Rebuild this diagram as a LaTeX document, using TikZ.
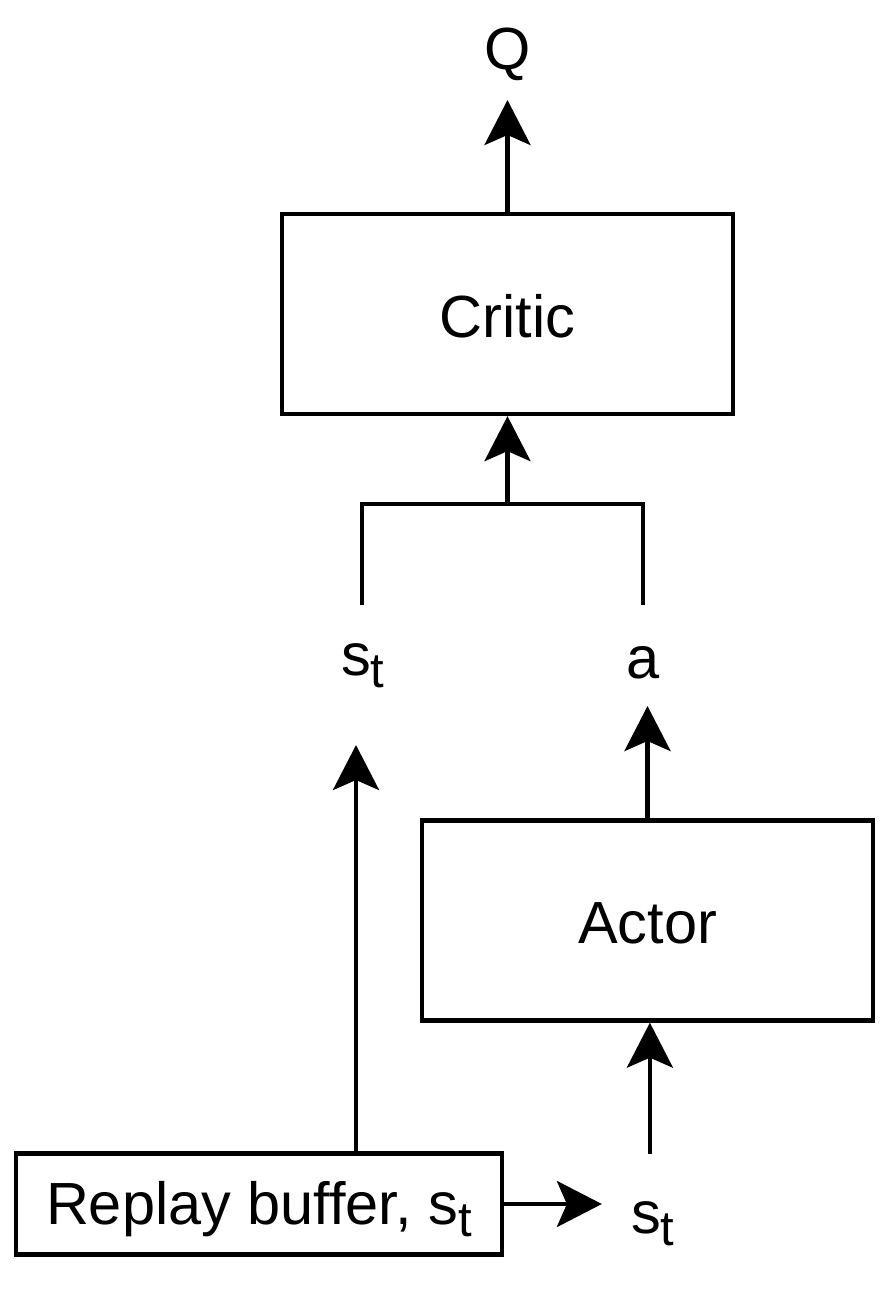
\documentclass[tikz,border=0pt]{standalone}
\usepackage{fontspec}
\setmainfont{Liberation Sans}
\usetikzlibrary{arrows.meta,calc}
\newcommand{\myst}{s{\fontsize{49}{49}\selectfont\raisebox{-12.5pt}{t}}}
\begin{document}
\begin{tikzpicture}[x=1pt,y=-1pt,
  box/.style={draw, line width=4.3pt, rectangle, inner sep=0pt, font=\fontsize{59.5}{70}\selectfont, text height=46pt, text depth=0pt},
  lbl/.style={inner sep=0pt, font=\fontsize{59.5}{70}\selectfont},
  arr/.style={line width=4.3pt, -{Stealth[length=45pt,width=46pt,inset=10pt]}},
  wire/.style={line width=4.3pt}]
\useasboundingbox (0,0) rectangle (888,1294);
% boxes
\node[box, minimum width=451pt, minimum height=200pt] (critic) at (507.5,314) {Critic};
\node[box, minimum width=451pt, minimum height=200pt] (actor) at (647.5,920.5) {Actor};
\node[box, minimum width=486pt, minimum height=101pt, text height=40pt] (replay) at (259,1204) {Replay buffer, \myst};
% labels
\node[lbl, anchor=base] (Q) at (508,69) {Q};
\node[lbl, anchor=base west] (stA) at (341,675) {\myst};
\node[lbl, anchor=base] (a) at (643,678) {a};
\node[lbl, anchor=base west] (stB) at (631,1233) {\myst};
% connector ends
\coordinate (Qtip) at ($(Q.base)+(0,31)$);
\coordinate (stAend) at ($(stA.base)+(-1,-70)$);
\coordinate (join) at ($(critic.south)+(0,88)$);
\coordinate (aend) at (stAend -| a.base);
\coordinate (stAtip) at ($(stA.base)+(-6,70)$);
\coordinate (rbout) at ([xshift=97pt]replay.north);
\coordinate (atip) at ($(a.base)+(4,28)$);
\coordinate (stBout) at ($(stB.base)+(-3,-79)$);
\coordinate (stBtip) at ($(stB.base)+(-51,-28)$);
% connectors
\draw[arr] (critic.north) -- (critic.north |- Qtip);
\draw[wire] (stAend) |- (join) -| (aend);
\draw[arr] (join) -- (critic.south);
\draw[arr] (rbout) -- (rbout |- stAtip);
\draw[arr] (actor.north) -- (actor.north |- atip);
\draw[arr] (stBout) -- (stBout |- actor.south);
\draw[arr] (replay.east) -- (replay.east -| stBtip);
\end{tikzpicture}
\end{document}
